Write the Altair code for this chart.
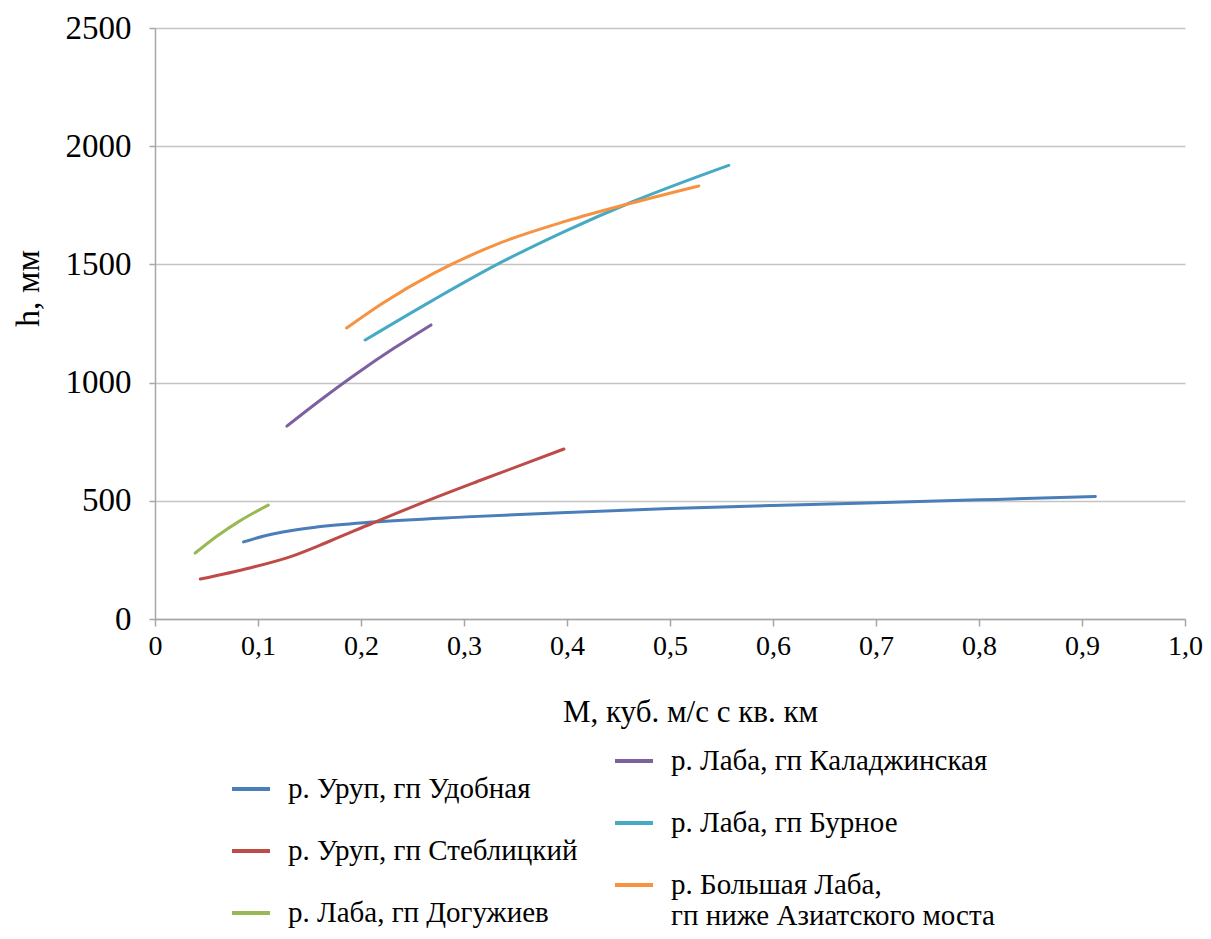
import altair as alt
import pandas as pd

# ---- data ----
names = [
    "р. Уруп, гп Удобная",
    "р. Уруп, гп Стеблицкий",
    "р. Лаба, гп Догужиев",
    "р. Лаба, гп Каладжинская",
    "р. Лаба, гп Бурное",
    "р. Большая Лаба,|гп ниже Азиатского моста",
]
colors = ["#4A7EBB", "#BE4B48", "#98B954", "#7D60A0", "#46AAC5", "#F69240"]

udobnaya_x = [0.086, 0.105, 0.124, 0.157, 0.211, 0.302, 0.40, 0.50, 0.60, 0.70, 0.80, 0.913]
udobnaya_y = [326, 350, 368, 389, 410, 432, 451, 467, 480, 492, 504, 518]

steblitsky_x = [0.044, 0.092, 0.131, 0.170, 0.211, 0.266, 0.318, 0.397]
steblitsky_y = [169, 216, 263, 330, 405, 503, 590, 719]

doguzhiev_x = [0.039, 0.060, 0.082, 0.110]
doguzhiev_y = [279, 350, 414, 482]

kaladzh_x = [0.128, 0.163, 0.198, 0.233, 0.268]
kaladzh_y = [816, 934, 1045, 1148, 1244]

burnoe_x = [0.204, 0.270, 0.334, 0.399, 0.463, 0.557]
burnoe_y = [1180, 1349, 1504, 1642, 1764, 1919]

blaba_x = [0.186, 0.221, 0.270, 0.334, 0.399, 0.463, 0.528]
blaba_y = [1231, 1336, 1461, 1589, 1683, 1760, 1832]

x_ticks = [0, 0.1, 0.2, 0.3, 0.4, 0.5, 0.6, 0.7, 0.8, 0.9, 1.0]
y_ticks = [0, 500, 1000, 1500, 2000, 2500]

series = [
    (names[0], udobnaya_x, udobnaya_y),
    (names[1], steblitsky_x, steblitsky_y),
    (names[2], doguzhiev_x, doguzhiev_y),
    (names[3], kaladzh_x, kaladzh_y),
    (names[4], burnoe_x, burnoe_y),
    (names[5], blaba_x, blaba_y),
]

rows = []
for name, xs, ys in series:
    for xv, yv in zip(xs, ys):
        rows.append({"series": name, "M": xv, "h": yv})
df = pd.DataFrame(rows)
df1 = df[df["series"].isin(names[:3])]
df2 = df[df["series"].isin(names[3:])]

FONT = "Liberation Serif"

x_axis = alt.Axis(
    values=x_ticks,
    labelExpr="datum.value == 0 ? '0' : replace(format(datum.value, '.1f'), '.', ',')",
    grid=False,
    tickSize=7,
    tickWidth=1.5,
    tickColor="#A6A6A6",
    domainColor="#A6A6A6",
    domainWidth=1.5,
    labelFont=FONT,
    labelFontSize=28,
    labelColor="black",
    labelPadding=6,
    labelFlush=False,
    labelOverlap=False,
    title="М, куб. м/с с кв. км",
    titleFont=FONT,
    titleFontSize=31,
    titleFontWeight="normal",
    titleColor="black",
    titleX=535,
    titleY=93,
    titleAlign="center",
    titleBaseline="middle",
)

y_axis = alt.Axis(
    values=y_ticks,
    format="d",
    grid=True,
    gridColor="#C4C4C4",
    gridWidth=1.5,
    tickSize=6,
    tickWidth=1.5,
    tickColor="#A6A6A6",
    domainColor="#A6A6A6",
    domainWidth=1.5,
    labelFont=FONT,
    labelFontSize=33,
    labelColor="black",
    labelPadding=18,
    labelOverlap=False,
    title="h, мм",
    titleFont=FONT,
    titleFontSize=34,
    titleFontWeight="normal",
    titleColor="black",
    titleX=-127,
    titleY=260,
    titleAngle=-90,
    titleAlign="center",
    titleBaseline="middle",
)


def make_legend(lx, ly):
    return alt.Legend(
        title=None,
        orient="none",
        legendX=lx,
        legendY=ly,
        symbolType="stroke",
        symbolSize=1444,
        symbolStrokeWidth=4,
        labelFont=FONT,
        labelFontSize=29,
        labelColor="black",
        labelOffset=16,
        labelLimit=600,
        rowPadding=26,
        padding=0,
        labelExpr="split(datum.label, '|')",
    )


xenc = alt.X("M:Q", scale=alt.Scale(domain=[0, 1], nice=False), axis=x_axis)
yenc = alt.Y("h:Q", scale=alt.Scale(domain=[0, 2500], nice=False), axis=y_axis)

layer1 = alt.Chart(df1).mark_line(strokeWidth=3, interpolate="monotone", strokeCap="round").encode(
    x=xenc,
    y=yenc,
    color=alt.Color(
        "series:N",
        scale=alt.Scale(domain=names[:3], range=colors[:3]),
        legend=make_legend(75, 740),
    ),
)

layer2 = alt.Chart(df2).mark_line(strokeWidth=3, interpolate="monotone", strokeCap="round").encode(
    x=xenc,
    y=yenc,
    color=alt.Color(
        "series:N",
        scale=alt.Scale(domain=names[3:], range=colors[3:]),
        legend=make_legend(458, 712),
    ),
)

chart = (
    alt.layer(layer1, layer2)
    .resolve_scale(color="independent")
    .resolve_legend(color="independent")
    .properties(
        width=1030,
        height=591,
        autosize=alt.AutoSizeParams(type="none"),
        padding={"left": 147, "top": 20, "right": 18, "bottom": 312},
        background="white",
    )
    .configure_view(stroke=None)
)

chart.save("out.html", embed_options={"renderer": "svg", "actions": False})
